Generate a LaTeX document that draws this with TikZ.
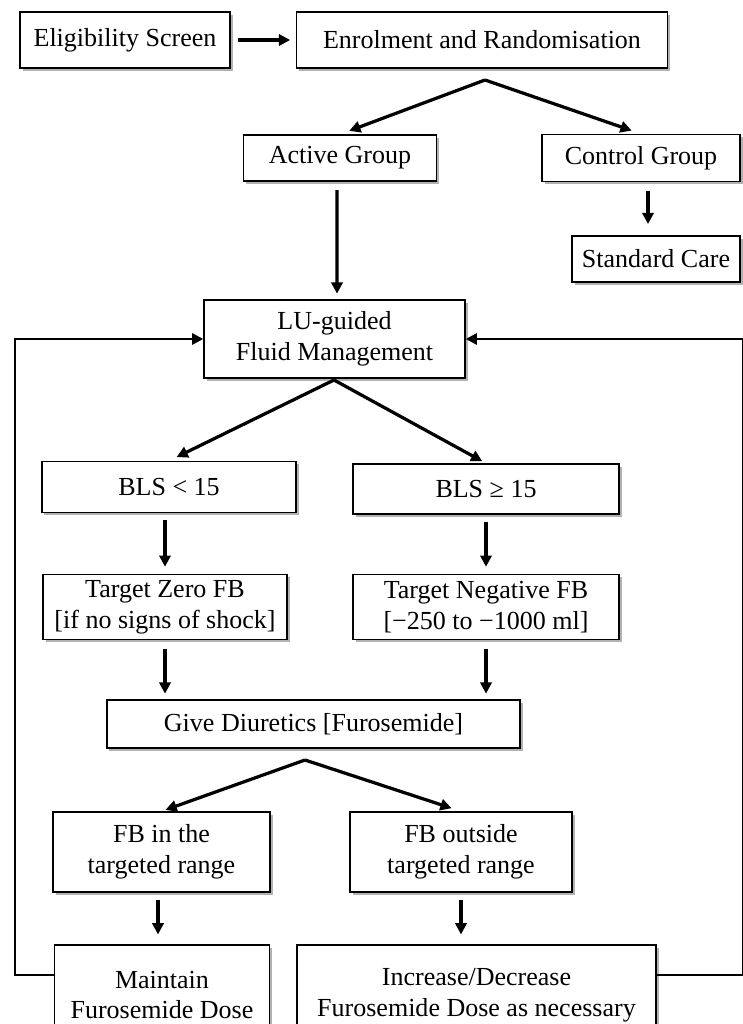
\documentclass[tikz,border=0pt]{standalone}
\usepackage{fontspec}
\setmainfont{Liberation Serif}
\usepackage{tikz}
\usetikzlibrary{arrows.meta,shadows,calc}

\begin{document}
\begin{tikzpicture}[x=0.025cm,y=-0.025cm,
  box/.style={rectangle,draw=black,line width=1pt,fill=white,align=center,inner sep=1pt,
    font=\fontsize{18.5}{22}\selectfont,
    drop shadow={shadow xshift=1.8pt,shadow yshift=-1.8pt,fill=black,opacity=0.3}},
  arr/.style={-{Triangle[length=8pt,width=8pt]},line width=2.3pt,shorten <=5pt,shorten >=4pt},
  back/.style={line width=1.8pt}
]
\useasboundingbox (0,0) rectangle (742,1024);

\node[box,minimum width=5.25cm,minimum height=1.4cm] (elig) at (125,40) {Eligibility Screen};
\node[box,minimum width=9.275cm,minimum height=1.4cm] (enrol) at (482,40) {Enrolment and Randomisation};
\node[box,minimum width=4.825cm,minimum height=1.15cm] (active) at (340,158) {Active Group};
\node[box,minimum width=4.95cm,minimum height=1.175cm] (control) at (641,158) {Control Group};
\node[box,minimum width=4.2cm,minimum height=1.15cm] (stdcare) at (656,259) {Standard Care};
\node[box,minimum width=6.525cm,minimum height=1.95cm] (lu) at (334.5,339) {LU-guided\\Fluid Management};
\node[box,minimum width=6.35cm,minimum height=1.275cm] (blslo) at (169,487) {BLS < 15};
\node[box,minimum width=6.65cm,minimum height=1.25cm] (blshi) at (486,489) {BLS ≥ 15};
\node[box,minimum width=6.1cm,minimum height=1.625cm] (zero) at (165,607) {Target Zero FB\\{}[if no signs of shock]};
\node[box,minimum width=6.65cm,minimum height=1.625cm] (neg) at (486,607) {Target Negative FB\\{}[−250 to −1000 ml]};
\node[box,minimum width=10.325cm,minimum height=1.2cm] (diur) at (313.5,724) {Give Diuretics [Furosemide]};
\node[box,minimum width=5.425cm,minimum height=2cm] (fbin) at (161.5,852) {FB in the\\targeted range};
\node[box,minimum width=5.55cm,minimum height=2cm] (fbout) at (461,852) {FB outside\\targeted range};
\node[box,minimum width=5.375cm,minimum height=2.5cm] (maint) at (162,995) {Maintain\\Furosemide Dose};
\node[box,minimum width=8.975cm,minimum height=2.5cm] (incr) at (476.5,995) {Increase/Decrease\\Furosemide Dose as necessary};

% split points and loop corners
\coordinate (s1) at (485,80);
\coordinate (s2) at (334,380);
\coordinate (s3) at (305,760);
\coordinate (lb) at (15,975);
\coordinate (rb) at (743,975);
\coordinate (mt) at ($(maint.north)+(-4,0)$);

\draw[arr] (elig) -- (enrol);
\draw[arr,shorten <=0pt,shorten >=7pt] (s1) -- (active.north);
\draw[arr,shorten <=0pt,shorten >=7pt] (s1) -- (control.north);
\draw[arr,shorten <=6pt,shorten >=8pt] ($(control.south)+(7,0)$) -- ($(stdcare.north)+(-8,0)$);
\draw[arr,shorten <=6pt] ($(active.south)+(-3,0)$) -- ($(lu.north)+(2.5,0)$);
\draw[arr,shorten <=0pt,shorten >=6pt] (s2) -- (blslo.north);
\draw[arr,shorten <=0pt,shorten >=3pt] (s2) -- (blshi.north);
\draw[arr,shorten >=5pt] (blslo.south -| zero.north) -- (zero.north);
\draw[arr,shorten >=5pt] (blshi.south) -- (neg.north);
\draw[arr,shorten <=6pt] (zero.south) -- (zero.south |- diur.north);
\draw[arr,shorten <=6pt] (neg.south) -- (neg.south |- diur.north);
\draw[arr,shorten <=0pt,shorten >=3pt] (s3) -- (fbin.north);
\draw[arr,shorten <=0pt,shorten >=7pt] (s3) -- (fbout.north);
\draw[arr,shorten >=7pt] (mt |- fbin.south) -- (mt);
\draw[arr,shorten >=7pt] (fbout.south) -- (fbout.south |- incr.north);

% feedback loops
\draw[back,-{Triangle[length=8pt,width=8pt]}] (maint.west |- lb) -- (lb) |- (lu.west);
\draw[back,-{Triangle[length=8pt,width=8pt]}] (incr.east |- rb) -- (rb) |- (lu.east);
\end{tikzpicture}
\end{document}
